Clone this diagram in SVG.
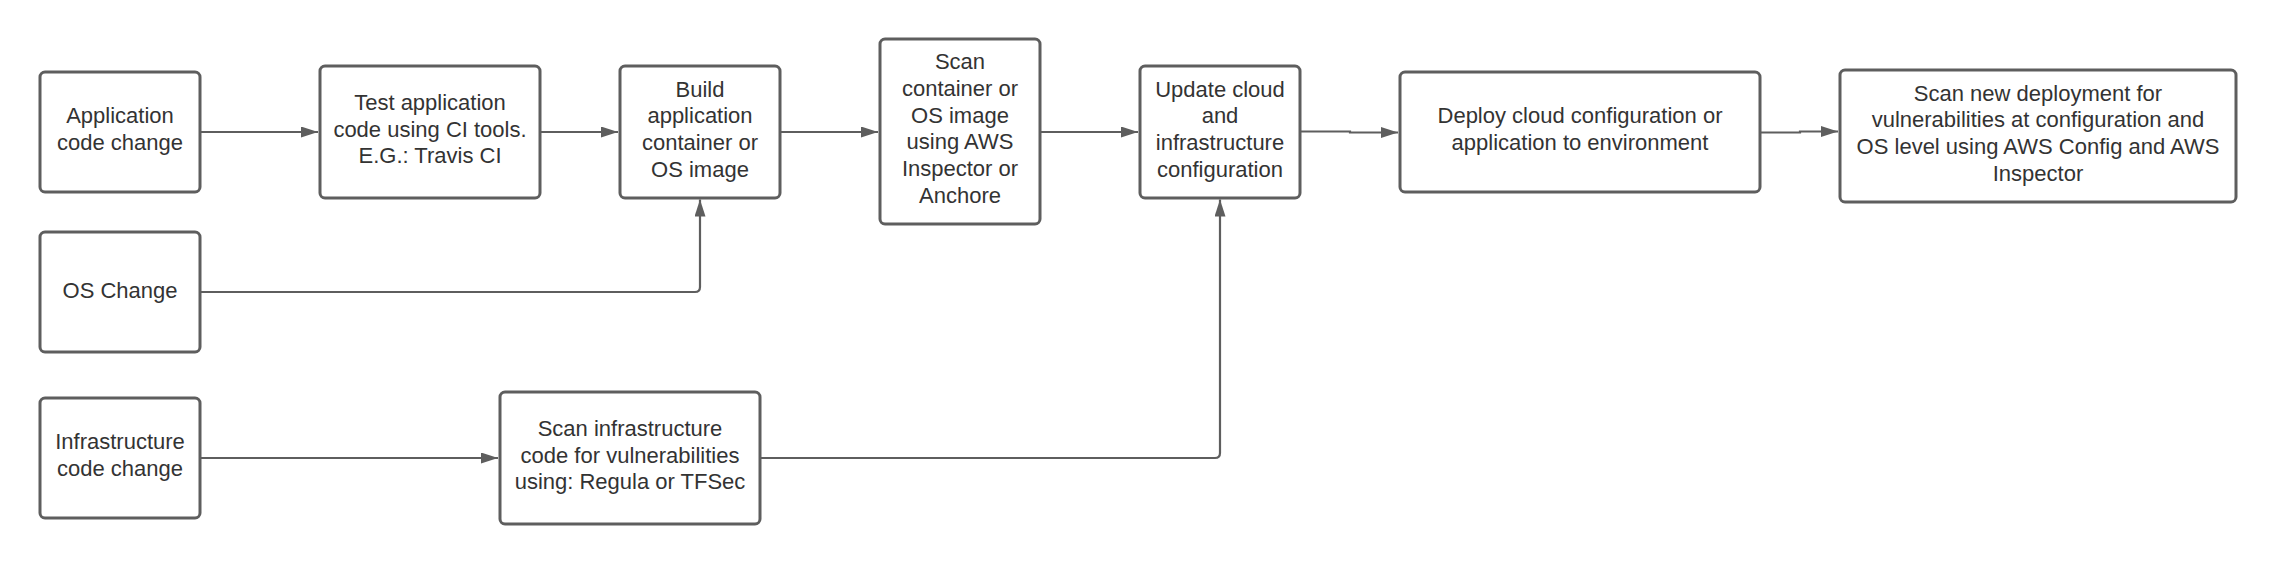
<svg xmlns="http://www.w3.org/2000/svg" width="2277" height="564" viewBox="0 0 2277 564">
<style>
.box{fill:#ffffff;stroke:#5e5e5e;stroke-width:3}
.lbl{font-family:"Liberation Sans",Arial,sans-serif;font-size:22px;fill:#333333;text-anchor:middle}
.conn{fill:none;stroke:#5e5e5e;stroke-width:2.2}
</style>
<defs>
<marker id="arr" markerUnits="userSpaceOnUse" markerWidth="18" markerHeight="12" refX="17" refY="5.5" orient="auto">
<path d="M0,0 L17,5.5 L0,11 z" fill="#5e5e5e"/>
</marker>
</defs>
<rect width="2277" height="564" fill="#ffffff"/>
<g id="connectors">
<path class="conn" d="M200,132 L318,132" marker-end="url(#arr)"/>
<path class="conn" d="M540,132 L618,132" marker-end="url(#arr)"/>
<path class="conn" d="M780,132 L878,132" marker-end="url(#arr)"/>
<path class="conn" d="M1040,132 L1138,132" marker-end="url(#arr)"/>
<path class="conn" d="M1300,131.5 L1350,131.5 L1350,132.5 L1398,132.5" marker-end="url(#arr)"/>
<path class="conn" d="M1760,132.5 L1800,132.5 L1800,131.5 L1838,131.5" marker-end="url(#arr)"/>
<path class="conn" d="M200,292 L695,292 Q700,292 700,287 L700,199.5" marker-end="url(#arr)"/>
<path class="conn" d="M200,458 L498,458" marker-end="url(#arr)"/>
<path class="conn" d="M760,458 L1215,458 Q1220,458 1220,453 L1220,199.5" marker-end="url(#arr)"/>
</g>
<g id="app-code-change">
<rect class="box" x="40" y="72" width="160" height="120" rx="5"/>
<text class="lbl"><tspan x="120" y="123.2">Application</tspan><tspan x="120" y="149.8">code change</tspan></text>
</g>
<g id="test-application">
<rect class="box" x="320" y="66" width="220" height="132" rx="5"/>
<text class="lbl"><tspan x="430" y="109.8">Test application</tspan><tspan x="430" y="136.5">code using CI tools.</tspan><tspan x="430" y="163.2">E.G.: Travis CI</tspan></text>
</g>
<g id="build-image">
<rect class="box" x="620" y="66" width="160" height="132" rx="5"/>
<text class="lbl"><tspan x="700" y="96.5">Build</tspan><tspan x="700" y="123.2">application</tspan><tspan x="700" y="149.9">container or</tspan><tspan x="700" y="176.6">OS image</tspan></text>
</g>
<g id="scan-container">
<rect class="box" x="880" y="39" width="160" height="185" rx="5"/>
<text class="lbl"><tspan x="960" y="69.3">Scan</tspan><tspan x="960" y="96">container or</tspan><tspan x="960" y="122.7">OS image</tspan><tspan x="960" y="149.4">using AWS</tspan><tspan x="960" y="176.1">Inspector or</tspan><tspan x="960" y="202.8">Anchore</tspan></text>
</g>
<g id="update-cloud">
<rect class="box" x="1140" y="66" width="160" height="132" rx="5"/>
<text class="lbl"><tspan x="1220" y="96.5">Update cloud</tspan><tspan x="1220" y="123.2">and</tspan><tspan x="1220" y="149.9">infrastructure</tspan><tspan x="1220" y="176.6">configuration</tspan></text>
</g>
<g id="deploy">
<rect class="box" x="1400" y="72" width="360" height="120" rx="5"/>
<text class="lbl"><tspan x="1580" y="123.2">Deploy cloud configuration or</tspan><tspan x="1580" y="149.8">application to environment</tspan></text>
</g>
<g id="scan-new-deployment">
<rect class="box" x="1840" y="70" width="396" height="132" rx="5"/>
<text class="lbl"><tspan x="2038" y="100.5">Scan new deployment for</tspan><tspan x="2038" y="127.2">vulnerabilities at configuration and</tspan><tspan x="2038" y="153.9">OS level using AWS Config and AWS</tspan><tspan x="2038" y="180.6">Inspector</tspan></text>
</g>
<g id="os-change">
<rect class="box" x="40" y="232" width="160" height="120" rx="5"/>
<text class="lbl" x="120" y="297.5">OS Change</text>
</g>
<g id="infra-code-change">
<rect class="box" x="40" y="398" width="160" height="120" rx="5"/>
<text class="lbl"><tspan x="120" y="449.2">Infrastructure</tspan><tspan x="120" y="475.8">code change</tspan></text>
</g>
<g id="scan-infra">
<rect class="box" x="500" y="392" width="260" height="132" rx="5"/>
<text class="lbl"><tspan x="630" y="435.8">Scan infrastructure</tspan><tspan x="630" y="462.5">code for vulnerabilities</tspan><tspan x="630" y="489.2">using: Regula or TFSec</tspan></text>
</g>
</svg>
